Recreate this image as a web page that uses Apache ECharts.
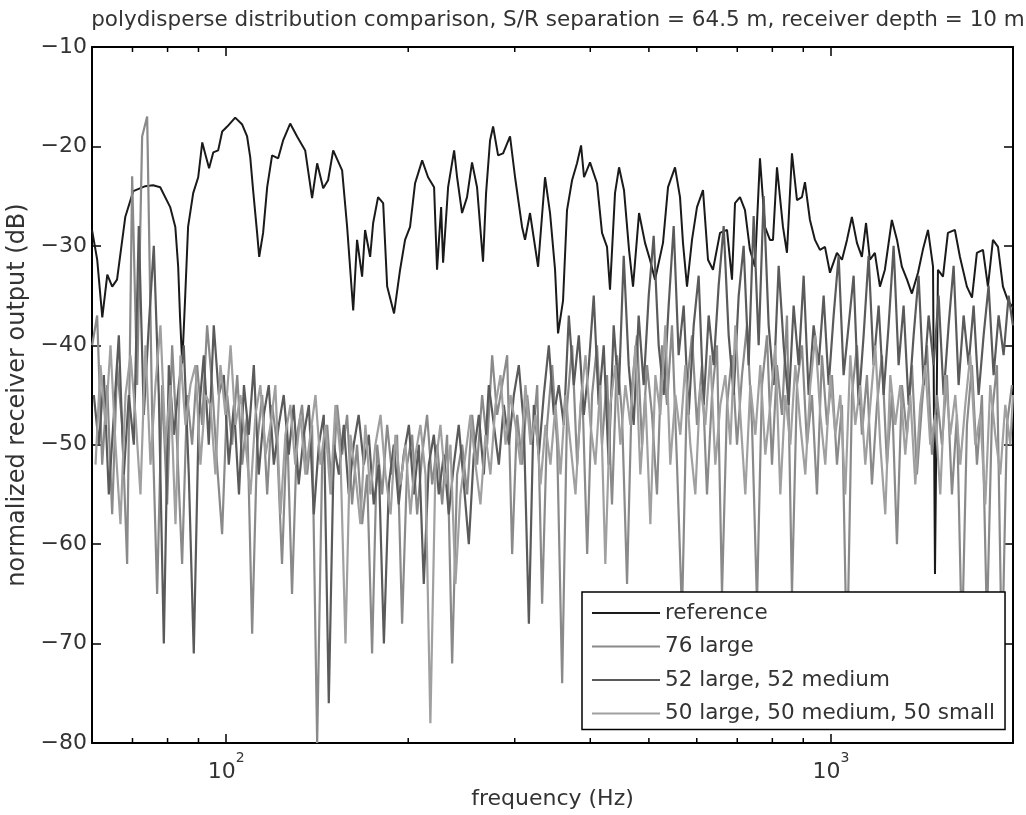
<!DOCTYPE html>
<html>
<head>
<meta charset="utf-8">
<script src="https://cdn.jsdelivr.net/npm/echarts@6/dist/echarts.min.js"></script>
<style>html,body{margin:0;padding:0;background:#fff}#chart{width:1026px;height:815px}</style>
</head>
<body>
<div id="chart"></div>
<script>
const titleText = 'polydisperse distribution comparison, S/R separation = 64.5 m, receiver depth = 10 m';
const xName = 'frequency (Hz)';
const yName = 'normalized receiver output (dB)';
const seriesNames = ['reference', '76 large', '52 large, 52 medium', '50 large, 50 medium, 50 small'];
const yTicks = [-80, -70, -60, -50, -40, -30, -20, -10];
const minorTickFreqs = [70, 80, 90, 200, 300, 400, 500, 600, 700, 800, 900];

const refFreq = [60.0, 61.2, 62.4, 63.6, 64.8, 66.0, 68.1, 70.2, 73.5, 75.7,
 77.8, 80.8, 82.4, 83.3, 83.9, 84.6, 85.5, 86.5, 88.2, 89.9,
 91.3, 92.3, 93.7, 95.2, 97.0, 98.5, 100.4, 103.5, 106.3, 108.3,
 109.6, 110.8, 112.5, 113.4, 115.1, 116.9, 119.1, 121.9, 124.2, 127.6,
 131.0, 135.1, 138.7, 141.4, 144.7, 147.4, 150.3, 155.5, 158.5, 162.2,
 164.6, 167.8, 169.7, 173.0, 175.0, 178.3, 181.8, 184.6, 189.5, 193.9,
 197.6, 201.4, 205.3, 210.9, 215.7, 220.7, 223.2, 226.7, 228.4, 232.8,
 238.2, 240.9, 245.5, 250.2, 255.0, 259.9, 265.9, 269.0, 273.1, 276.3,
 281.6, 287.0, 294.7, 300.4, 308.5, 312.0, 318.0, 327.9, 336.7, 343.2,
 349.8, 353.8, 360.6, 366.1, 373.2, 380.3, 386.2, 390.6, 399.6, 410.4,
 418.3, 426.3, 431.2, 439.5, 446.3, 454.8, 463.6, 470.7, 481.6, 492.7,
 502.1, 511.8, 527.6, 537.8, 552.3, 562.9, 569.3, 578.1, 589.2, 600.5,
 614.4, 626.2, 638.2, 655.5, 673.2, 686.1, 694.0, 707.3, 720.9, 734.7,
 748.8, 763.2, 777.9, 792.8, 802.0, 814.3, 833.1, 845.8, 862.1, 878.7,
 895.5, 905.8, 923.2, 941.0, 959.0, 977.5, 996.3, 1023, 1043, 1063,
 1083, 1104, 1125, 1143, 1160, 1182, 1205, 1228, 1261, 1286,
 1310, 1336, 1361, 1393, 1419, 1447, 1475, 1486, 1503, 1532,
 1561, 1603, 1634, 1678, 1711, 1743, 1784, 1818, 1853, 1889,
 1925, 1962, 2000];
const refDb = [-28.4, -31.4, -37.2, -32.9, -34.1, -33.4, -27.1, -24.5, -24.0, -23.9,
 -24.1, -26.1, -28.1, -32.1, -37.2, -41.8, -35.5, -28.1, -24.7, -23.1,
 -19.6, -20.7, -22.2, -20.6, -20.4, -18.5, -18.0, -17.1, -17.8, -19.0,
 -21.1, -24.4, -28.7, -31.1, -28.7, -24.1, -20.9, -21.2, -19.4, -17.7,
 -19.0, -20.4, -25.2, -21.7, -24.2, -23.4, -20.4, -22.4, -28.1, -36.5,
 -29.4, -33.1, -28.4, -31.1, -27.7, -25.1, -25.7, -34.1, -36.8, -32.4,
 -29.4, -28.1, -23.7, -21.4, -23.1, -24.1, -32.4, -26.1, -31.7, -24.1,
 -20.4, -23.1, -26.7, -25.1, -21.6, -24.1, -31.6, -24.7, -19.4, -18.0,
 -20.9, -20.7, -19.0, -23.1, -28.1, -29.4, -26.7, -32.1, -23.1, -26.7,
 -32.4, -38.8, -35.5, -26.4, -23.4, -21.7, -19.9, -23.1, -21.6, -23.7,
 -28.7, -30.1, -34.4, -24.7, -22.1, -24.4, -30.4, -34.1, -26.7, -29.7,
 -31.4, -33.4, -29.7, -24.1, -22.1, -25.1, -29.7, -34.1, -29.4, -26.1,
 -24.4, -31.4, -32.4, -28.7, -28.4, -33.4, -25.7, -25.1, -26.4, -30.4,
 -32.1, -21.2, -28.1, -29.4, -29.4, -22.1, -28.1, -30.7, -20.7, -25.4,
 -25.1, -23.6, -27.4, -29.4, -30.4, -30.1, -32.7, -30.7, -31.4, -29.4,
 -27.1, -29.7, -31.1, -27.7, -31.4, -30.7, -34.1, -32.4, -27.4, -29.4,
 -32.1, -33.4, -34.8, -32.7, -30.4, -28.4, -32.1, -63.0, -32.4, -33.1,
 -28.7, -28.4, -31.1, -34.1, -35.2, -30.7, -30.4, -34.1, -29.4, -30.1,
 -34.1, -35.5, -36.2];

const freq76 = [60.04, 61.19, 62.37, 63.57, 64.79, 66.03, 67.30, 68.59, 69.91, 71.25,
 72.62, 74.02, 75.44, 76.89, 78.37, 79.87, 81.41, 82.97, 84.56, 86.19,
 87.84, 89.53, 91.25, 93.00, 94.79, 96.61, 98.47, 100.4, 102.3, 104.3,
 106.3, 108.3, 110.4, 112.5, 114.7, 116.9, 119.1, 121.4, 123.7, 126.1,
 128.5, 131.0, 133.5, 136.1, 138.7, 141.4, 144.1, 146.9, 149.7, 152.6,
 155.5, 158.5, 161.5, 164.6, 167.8, 171.0, 174.3, 177.7, 181.1, 184.6,
 188.1, 191.7, 195.4, 199.2, 203.0, 206.9, 210.9, 214.9, 219.1, 223.3,
 227.6, 231.9, 236.4, 240.9, 245.6, 250.3, 255.1, 260.0, 265.0, 270.1,
 275.3, 280.6, 286.0, 291.5, 297.1, 302.8, 308.6, 314.6, 320.6, 326.8,
 333.0, 339.4, 346.0, 352.6, 359.4, 366.3, 373.3, 380.5, 387.8, 395.3,
 402.7, 410.4, 418.3, 426.3, 434.5, 442.9, 451.4, 460.1, 468.9, 477.9,
 487.1, 496.5, 506.0, 515.7, 525.6, 535.7, 546.0, 556.5, 567.2, 578.1,
 589.2, 600.5, 612.0, 623.8, 635.8, 648.0, 660.5, 673.2, 686.1, 699.3,
 712.7, 726.4, 740.4, 754.6, 769.1, 783.9, 798.9, 814.3, 829.9, 845.9,
 862.1, 878.7, 895.6, 912.8, 930.3, 948.2, 966.4, 985.0, 1003.9, 1023.2,
 1042.8, 1062.9, 1083.3, 1104.1, 1125.3, 1147.0, 1169.0, 1191.5, 1214.4, 1237.7,
 1261.5, 1285.7, 1310.4, 1335.6, 1361.3, 1387.4, 1414.1, 1441.3, 1469.0, 1497.2,
 1526.0, 1555.3, 1585.2, 1615.6, 1646.7, 1678.3, 1710.6, 1743.5, 1777.0, 1811.1,
 1845.9, 1881.4, 1917.5, 1954.4, 1992.0];
const freq52 = [60.42, 61.58, 62.77, 63.97, 65.20, 66.45, 67.73, 69.03, 70.36, 71.70,
 73.08, 74.49, 75.92, 77.38, 78.87, 80.38, 81.93, 83.50, 85.10, 86.74,
 88.40, 90.10, 91.83, 93.59, 95.39, 97.23, 99.10, 101.0, 103.0, 105.0,
 107.0, 109.0, 111.1, 113.2, 115.4, 117.6, 119.9, 122.2, 124.5, 126.9,
 129.3, 131.8, 134.4, 137.0, 139.6, 142.3, 145.0, 147.8, 150.7, 153.6,
 156.5, 159.5, 162.5, 165.6, 168.9, 172.1, 175.4, 178.8, 182.3, 185.8,
 189.3, 192.9, 196.6, 200.5, 204.3, 208.2, 212.2, 216.3, 220.5, 224.7,
 229.0, 233.4, 237.9, 242.4, 247.2, 251.9, 256.7, 261.7, 266.7, 271.8,
 277.1, 282.4, 287.8, 293.4, 299.0, 304.7, 310.6, 316.6, 322.6, 328.9,
 335.1, 341.6, 348.2, 354.8, 361.7, 368.6, 375.7, 382.9, 390.3, 397.8,
 405.3, 413.0, 421.0, 429.0, 437.3, 445.7, 454.3, 463.0, 471.9, 480.9,
 490.2, 499.7, 509.2, 519.0, 529.0, 539.1, 549.5, 560.0, 570.8, 581.8,
 593.0, 604.3, 615.9, 627.8, 639.9, 652.1, 664.7, 677.5, 690.5, 703.8,
 717.2, 731.0, 745.1, 759.4, 774.0, 788.9, 804.0, 819.5, 835.2, 851.3,
 867.6, 884.3, 901.3, 918.6, 936.2, 954.2, 972.6, 991.3, 1010.3, 1029.7,
 1049.4, 1069.7, 1090.2, 1111.1, 1132.5, 1154.3, 1176.4, 1199.1, 1222.1, 1245.6,
 1269.5, 1293.9, 1318.7, 1344.1, 1370.0, 1396.2, 1423.1, 1450.5, 1478.4, 1506.7,
 1535.7, 1565.2, 1595.3, 1625.9, 1657.2, 1689.0, 1721.5, 1754.6, 1788.3, 1822.6,
 1857.7, 1893.4, 1929.7, 1966.8, 1999.0];
const freq50 = [60.81, 61.97, 63.17, 64.38, 65.62, 66.87, 68.16, 69.47, 70.80, 72.16,
 73.55, 74.97, 76.40, 77.87, 79.37, 80.89, 82.45, 84.03, 85.64, 87.29,
 88.96, 90.67, 92.42, 94.19, 96.00, 97.84, 99.73, 101.7, 103.6, 105.6,
 107.7, 109.7, 111.8, 113.9, 116.2, 118.4, 120.6, 123.0, 125.3, 127.7,
 130.1, 132.7, 135.2, 137.8, 140.5, 143.2, 145.9, 148.8, 151.6, 154.5,
 157.5, 160.5, 163.6, 166.7, 169.9, 173.2, 176.5, 180.0, 183.4, 187.0,
 190.5, 194.1, 197.9, 201.7, 205.6, 209.5, 213.6, 217.6, 221.9, 226.1,
 230.5, 234.9, 239.4, 244.0, 248.7, 253.5, 258.4, 263.3, 268.4, 273.5,
 278.8, 284.2, 289.7, 295.2, 300.9, 306.7, 312.5, 318.6, 324.7, 331.0,
 337.3, 343.7, 350.4, 357.1, 364.0, 371.0, 378.1, 385.4, 392.8, 400.3,
 407.8, 415.6, 423.6, 431.7, 440.0, 448.6, 457.2, 466.0, 474.9, 484.0,
 493.3, 502.8, 512.5, 522.3, 532.3, 542.5, 553.0, 563.6, 574.4, 585.5,
 596.7, 608.2, 619.8, 631.8, 643.9, 656.3, 668.9, 681.8, 694.9, 708.2,
 721.8, 735.7, 749.9, 764.2, 778.9, 793.9, 809.1, 824.7, 840.5, 856.7,
 873.1, 889.9, 907.0, 924.5, 942.2, 960.3, 978.7, 997.6, 1016.7, 1036.3,
 1056.1, 1076.5, 1097.1, 1118.2, 1139.7, 1161.6, 1183.9, 1206.7, 1229.9, 1253.5,
 1277.6, 1302.1, 1327.1, 1352.7, 1378.7, 1405.1, 1432.2, 1459.7, 1487.8, 1516.3,
 1545.5, 1575.2, 1605.4, 1636.2, 1667.7, 1699.7, 1732.4, 1765.8, 1799.7, 1834.2,
 1869.5, 1905.4, 1942.0, 1979.4, 2000.0];

const large76Db = [-40, -37, -52, -44, -57, -42, -48, -62, -23, -44,
 -19, -17, -47, -65, -44, -56, -40, -50, -62, -45,
 -50, -42, -48, -38, -44, -52, -59, -45, -50, -43,
 -52, -47, -69, -50, -45, -55, -46, -50, -62, -48,
 -65, -49, -46, -53, -48, -80, -52, -48, -55, -46,
 -51, -47, -56, -50, -58, -53, -71, -50, -55, -48,
 -53, -49, -68, -52, -49, -57, -51, -47, -54, -50,
 -56, -49, -72, -53, -50, -55, -47, -52, -45, -50,
 -41, -47, -44, -41, -61, -47, -52, -45, -50, -44,
 -66, -48, -42, -50, -74, -46, -40, -52, -44, -61,
 -45, -40, -50, -43, -56, -41, -47, -64, -44, -39,
 -50, -42, -47, -55, -40, -46, -38, -52, -67, -44,
 -39, -48, -42, -55, -45, -40, -65, -46, -41, -50,
 -43, -38, -48, -66, -44, -39, -52, -42, -47, -37,
 -65, -44, -40, -50, -45, -55, -41, -48, -43, -52,
 -46, -72, -45, -40, -49, -43, -54, -46, -41, -52,
 -45, -60, -44, -49, -42, -53, -46, -40, -51, -45,
 -50, -43, -55, -47, -70, -48, -42, -52, -45, -68,
 -47, -42, -72, -48, -44];
const mix52Db = [-45, -50, -43, -55, -47, -39, -53, -45, -50, -28,
 -47, -38, -30, -45, -70, -42, -49, -44, -40, -53,
 -71, -47, -41, -50, -38, -45, -43, -52, -46, -55,
 -44, -49, -42, -53, -47, -44, -52, -48, -45, -51,
 -46, -54, -49, -46, -57, -50, -47, -76, -50, -53,
 -48, -55, -50, -47, -52, -49, -56, -52, -70, -54,
 -50, -56, -51, -48, -55, -50, -64, -52, -49, -55,
 -51, -57, -52, -48, -54, -60, -51, -47, -53, -44,
 -48, -52, -46, -50, -45, -42, -48, -68, -46, -51,
 -45, -40, -47, -44, -48, -37, -44, -39, -47, -42,
 -35, -46, -40, -52, -38, -45, -31, -42, -48, -37,
 -44, -35, -29, -40, -45, -36, -28, -41, -36, -47,
 -38, -33, -46, -37, -42, -34, -28, -39, -45, -35,
 -30, -42, -27, -40, -25, -38, -44, -32, -40, -46,
 -36, -42, -33, -45, -38, -42, -35, -44, -37, -31,
 -43, -38, -33, -46, -39, -31, -42, -36, -45, -38,
 -30, -42, -36, -46, -39, -33, -44, -37, -42, -35,
 -45, -38, -32, -44, -37, -42, -36, -45, -39, -34,
 -43, -37, -41, -35, -38];
const mix50Db = [-52, -42, -48, -40, -50, -58, -45, -41, -47, -55,
 -40, -52, -44, -38, -50, -44, -58, -41, -48, -44,
 -42, -52, -45, -46, -53, -42, -47, -40, -48, -45,
 -50, -55, -47, -44, -51, -48, -44, -57, -49, -46,
 -52, -47, -53, -49, -45, -52, -48, -55, -46, -51,
 -70, -49, -53, -58, -48, -55, -50, -47, -53, -57,
 -49, -54, -50, -57, -51, -48, -53, -78, -52, -48,
 -54, -50, -64, -55, -51, -47, -52, -56, -49, -53,
 -46, -43, -50, -45, -48, -52, -44, -50, -47, -54,
 -48, -52, -46, -53, -45, -50, -55, -46, -41, -48,
 -52, -44, -62, -46, -42, -50, -44, -48, -40, -53,
 -45, -58, -43, -47, -38, -52, -45, -49, -42, -50,
 -55, -44, -48, -41, -52, -46, -43, -50, -38, -47,
 -55, -44, -49, -42, -51, -46, -40, -55, -45, -50,
 -42, -48, -53, -44, -39, -47, -52, -43, -49, -45,
 -55, -41, -48, -44, -52, -46, -40, -50, -57, -43,
 -48, -44, -51, -45, -54, -46, -42, -50, -47, -55,
 -43, -49, -45, -52, -46, -41, -50, -47, -56, -44,
 -49, -53, -46, -50, -45];

const FONT = 'DejaVu Sans';
const TXT = '#333';
const pair = (xs, ys) => xs.map((x, i) => [x, ys[i]]);
const fmtY = v => (v < 0 ? '\u2212' : '') + Math.abs(v);

const chart = echarts.init(document.getElementById('chart'), null, {renderer: 'canvas'});
const lineSeries = (name, xs, ys, color, width) => ({
  name, type: 'line', data: pair(xs, ys), showSymbol: false, symbol: 'none',
  lineStyle: {color, width}, itemStyle: {color}, animation: false, silent: true
});

chart.setOption({
  animation: false,
  title: {
    text: titleText, left: 553, top: 4, textAlign: 'center',
    textStyle: {fontFamily: FONT, fontSize: 21.5, fontWeight: 'normal', color: TXT}
  },
  grid: {left: 92, right: 13, top: 47, bottom: 72, containLabel: false, outerBoundsMode: 'none'},
  legend: {
    data: seriesNames, orient: 'vertical', left: 582, top: 592,
    padding: [10, 10, 5, 10], itemGap: 11.5, itemWidth: 68, itemHeight: 2,
    icon: 'rect',
    backgroundColor: '#fff', borderColor: '#000', borderWidth: 1.5,
    textStyle: {fontFamily: FONT, fontSize: 21.5, color: TXT, lineHeight: 22},
    selectedMode: false
  },
  xAxis: [{
    type: 'log', logBase: 10, min: 60, max: 2000, position: 'bottom',
    name: xName, nameLocation: 'middle', nameGap: 45,
    nameTextStyle: {fontFamily: FONT, fontSize: 22, color: TXT},
    axisLine: {lineStyle: {color: '#000', width: 2}},
    axisTick: {inside: true, length: 9, lineStyle: {color: '#000', width: 1.5}},
    splitLine: {show: false}, minorTick: {show: false},
    axisLabel: {
      showMinLabel: false, showMaxLabel: false, margin: 8,
      formatter: v => '{b|10}{s|' + Math.round(Math.log10(v)) + '}',
      rich: {
        b: {fontFamily: FONT, fontSize: 22, color: TXT, verticalAlign: 'bottom', lineHeight: 32},
        s: {fontFamily: FONT, fontSize: 14, color: TXT, verticalAlign: 'top', lineHeight: 32}
      }
    }
  }, {
    type: 'log', logBase: 10, min: 60, max: 2000, position: 'top',
    axisLine: {lineStyle: {color: '#000', width: 2}},
    axisTick: {inside: true, length: 9, lineStyle: {color: '#000', width: 1.5}},
    axisLabel: {show: false}, splitLine: {show: false}
  }],
  yAxis: [{
    type: 'value', min: -80, max: -10, interval: 10, position: 'left',
    name: yName, nameLocation: 'middle', nameGap: 60, nameRotate: 90,
    nameTextStyle: {fontFamily: FONT, fontSize: 24, color: TXT},
    axisLine: {show: true, lineStyle: {color: '#000', width: 2}},
    axisTick: {show: true, inside: true, length: 9, lineStyle: {color: '#000', width: 1.5}},
    axisLabel: {formatter: fmtY, fontFamily: FONT, fontSize: 22, color: TXT, margin: 5},
    splitLine: {show: false}
  }, {
    type: 'value', min: -80, max: -10, interval: 10, position: 'right',
    axisLine: {show: true, lineStyle: {color: '#000', width: 2}},
    axisTick: {show: true, inside: true, length: 9, lineStyle: {color: '#000', width: 1.5}},
    axisLabel: {show: false}, splitLine: {show: false}
  }],
  series: [
    lineSeries(seriesNames[0], refFreq, refDb, '#1a1a1a', 2),
    lineSeries(seriesNames[1], freq76, large76Db, '#8a8a8a', 2.2),
    lineSeries(seriesNames[2], freq52, mix52Db, '#5a5a5a', 2.2),
    lineSeries(seriesNames[3], freq50, mix50Db, '#a0a0a0', 2.2),
    {
      type: 'custom', silent: true, animation: false, clip: false,
      data: minorTickFreqs.map(f => [f, -80]),
      encode: {x: 0, y: 1},
      renderItem: (params, api) => {
        const f = api.value(0);
        const b = api.coord([f, -80]);
        const t = api.coord([f, -10]);
        return {type: 'group', children: [
          {type: 'line', shape: {x1: b[0], y1: b[1], x2: b[0], y2: b[1] - 5}, style: {stroke: '#000', lineWidth: 1.5}},
          {type: 'line', shape: {x1: t[0], y1: t[1], x2: t[0], y2: t[1] + 5}, style: {stroke: '#000', lineWidth: 1.5}}
        ]};
      }
    }
  ]
});
</script>
</body>
</html>
